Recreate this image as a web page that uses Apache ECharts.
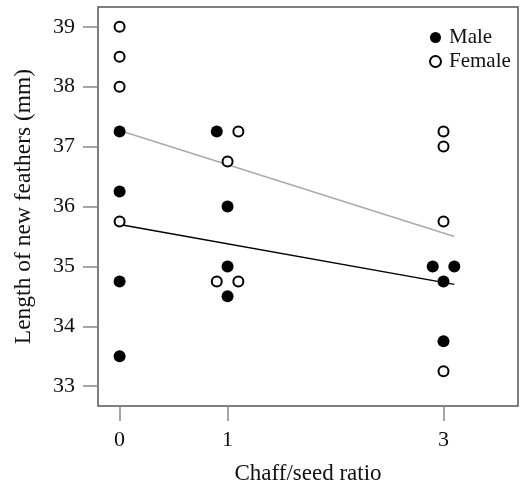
<!DOCTYPE html>
<html>
<head>
<meta charset="utf-8">
<script src="https://cdn.jsdelivr.net/npm/echarts@6/dist/echarts.min.js"></script>
<style>
  html, body { margin: 0; padding: 0; background: #fff; }
  #main { width: 521px; height: 486px; }
</style>
</head>
<body>
<div id="main"></div>
<script>
// data: [chaff/seed ratio (jittered), length mm]
var maleData = [
  [0, 37.25], [0, 36.25], [0, 34.75], [0, 33.5],
  [0.9, 37.25], [1, 36], [1, 35], [1, 34.5],
  [2.9, 35], [3.1, 35], [3, 34.75], [3, 33.75]
];
var femaleData = [
  [0, 39], [0, 38.5], [0, 38], [0, 35.75],
  [1.1, 37.25], [1, 36.75], [0.9, 34.75], [1.1, 34.75],
  [3, 37.25], [3, 37], [3, 35.75], [3, 33.25]
];
// fitted lines (start / end)
var maleFit = [[0, 35.7], [3.1, 34.7]];
var femaleFit = [[0, 37.27], [3.1, 35.5]];
var xTicks = [0, 1, 3];
var yTicks = [33, 34, 35, 36, 37, 38, 39];

var serif = '"Liberation Serif", "Times New Roman", serif';
var myChart = echarts.init(document.getElementById('main'));
var option = {
    animation: false,
    backgroundColor: '#fff',
    grid: {
        left: 98, top: 7, right: 3, bottom: 80,
        containLabel: false,
        outerBoundsMode: 'none',
        show: true,
        borderColor: '#555',
        borderWidth: 1.5,
        backgroundColor: 'transparent'
    },
    legend: {
        data: ['Male', 'Female'],
        orient: 'vertical',
        left: 424,
        top: 22,
        itemWidth: 11,
        itemHeight: 11,
        itemGap: 3,
        selectedMode: false,
        textStyle: {
            fontFamily: serif,
            fontSize: 21,
            lineHeight: 21,
            color: '#111',
            padding: [0, 0, 0, 3]
        }
    },
    xAxis: {
        type: 'value',
        min: -0.2,
        max: 3.69,
        name: 'Chaff/seed ratio',
        nameLocation: 'middle',
        nameGap: 56,
        nameTextStyle: { fontFamily: serif, fontSize: 23, color: '#111' },
        axisLine: { show: false, onZero: false },
        splitLine: { show: false },
        axisTick: {
            show: true, inside: false, length: 15,
            customValues: xTicks,
            lineStyle: { color: '#888', width: 1.5 }
        },
        axisLabel: {
            customValues: xTicks,
            margin: 23,
            fontFamily: serif, fontSize: 22, color: '#111'
        }
    },
    yAxis: {
        type: 'value',
        min: 32.67,
        max: 39.33,
        name: 'Length of new feathers (mm)',
        nameLocation: 'middle',
        nameRotate: 90,
        nameGap: 62,
        nameTextStyle: { fontFamily: serif, fontSize: 23.5, color: '#111' },
        axisLine: { show: false, onZero: false },
        splitLine: { show: false },
        axisTick: {
            show: true, inside: false, length: 15,
            customValues: yTicks,
            lineStyle: { color: '#888', width: 1.5 }
        },
        axisLabel: {
            customValues: yTicks,
            margin: 23,
            fontFamily: serif, fontSize: 22, color: '#111'
        }
    },
    series: [
        {
            name: 'femaleFit',
            type: 'line',
            data: femaleFit,
            symbol: 'none',
            silent: true,
            z: 1,
            lineStyle: { color: '#aaa', width: 1.5 }
        },
        {
            name: 'maleFit',
            type: 'line',
            data: maleFit,
            symbol: 'none',
            silent: true,
            z: 1,
            lineStyle: { color: '#000', width: 1.5 }
        },
        {
            name: 'Male',
            type: 'scatter',
            data: maleData,
            symbol: 'circle',
            symbolSize: 12,
            z: 3,
            itemStyle: { color: '#000', opacity: 1 }
        },
        {
            name: 'Female',
            type: 'scatter',
            data: femaleData,
            symbol: 'circle',
            symbolSize: 10,
            z: 3,
            itemStyle: { color: '#fff', borderColor: '#000', borderWidth: 2, opacity: 1 }
        }
    ]
};
myChart.setOption(option);
</script>
</body>
</html>
